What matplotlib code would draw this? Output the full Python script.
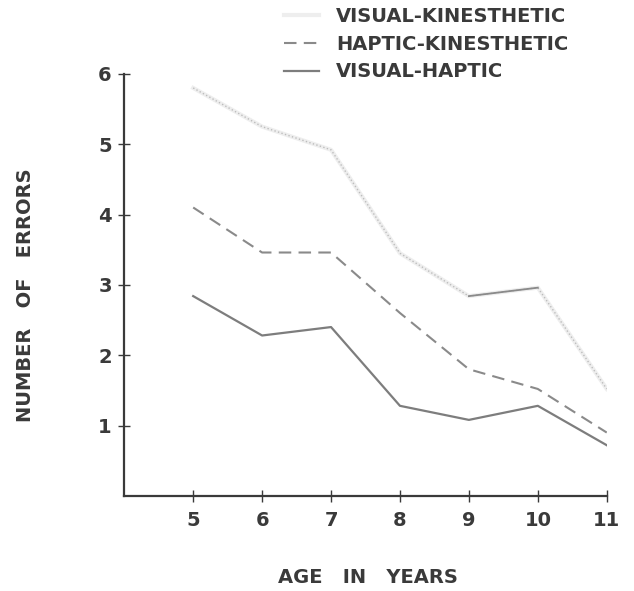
import matplotlib.pyplot as plt

ages = [5, 6, 7, 8, 9, 10, 11]
visual_kinesthetic = [5.8, 5.25, 4.92, 3.45, 2.84, 2.96, 1.52]
haptic_kinesthetic = [4.1, 3.46, 3.46, 2.6, 1.8, 1.52, 0.9]
visual_haptic = [2.84, 2.28, 2.4, 1.28, 1.08, 1.28, 0.72]
y_ticks = [1, 2, 3, 4, 5, 6]

ink = '#3a3a3a'

fig = plt.figure(figsize=(6.34, 5.91), dpi=100)
ax = fig.add_axes([0.196, 0.161, 0.761, 0.714])

# the visual-kinesthetic curve is badly faded in the scan
ax.plot(ages, visual_kinesthetic, '-', color='#eeeeee', lw=3, label='VISUAL-KINESTHETIC')
ax.plot(ages, visual_kinesthetic, ':', color='#bdbdbd', lw=1.0)
ax.plot(ages[4:6], visual_kinesthetic[4:6], '-', color='#8a8a8a', lw=1.3)
ax.plot(ages, haptic_kinesthetic, '--', color='#8a8a8a', lw=1.5, dashes=(6, 3.5), label='HAPTIC-KINESTHETIC')
ax.plot(ages, visual_haptic, '-', color='#7d7d7d', lw=1.6, label='VISUAL-HAPTIC')

ax.set_xlim(4, 11)
ax.set_ylim(0, 6)
ax.set_xticks(ages)
ax.set_yticks(y_ticks)
ax.spines['top'].set_visible(False)
ax.spines['right'].set_visible(False)
for s in ('left', 'bottom'):
    ax.spines[s].set_color(ink)
    ax.spines[s].set_linewidth(1.6)
ax.tick_params(direction='inout', length=8, width=1, colors=ink, labelsize=14)
for lab in ax.get_xticklabels() + ax.get_yticklabels():
    lab.set_fontweight('bold')
    lab.set_color(ink)
ax.tick_params(axis='y', pad=5)
ax.tick_params(axis='x', pad=7)

fig.text(0.58, 0.022, 'AGE   IN   YEARS', ha='center', va='center', fontsize=14,
         fontweight='bold', color=ink)
fig.text(0.04, 0.5, 'NUMBER   OF   ERRORS', ha='center', va='center', fontsize=14,
         fontweight='bold', color=ink, rotation=90)

handles, labels = ax.get_legend_handles_labels()
leg = fig.legend(handles, labels, loc='upper left', bbox_to_anchor=(0.421, 1.018),
                 frameon=False, handlelength=1.8, handletextpad=0.85, labelspacing=0.45,
                 prop={'size': 14, 'weight': 'bold'})
for t in leg.get_texts():
    t.set_color(ink)

fig.savefig('out.png', dpi=100)
